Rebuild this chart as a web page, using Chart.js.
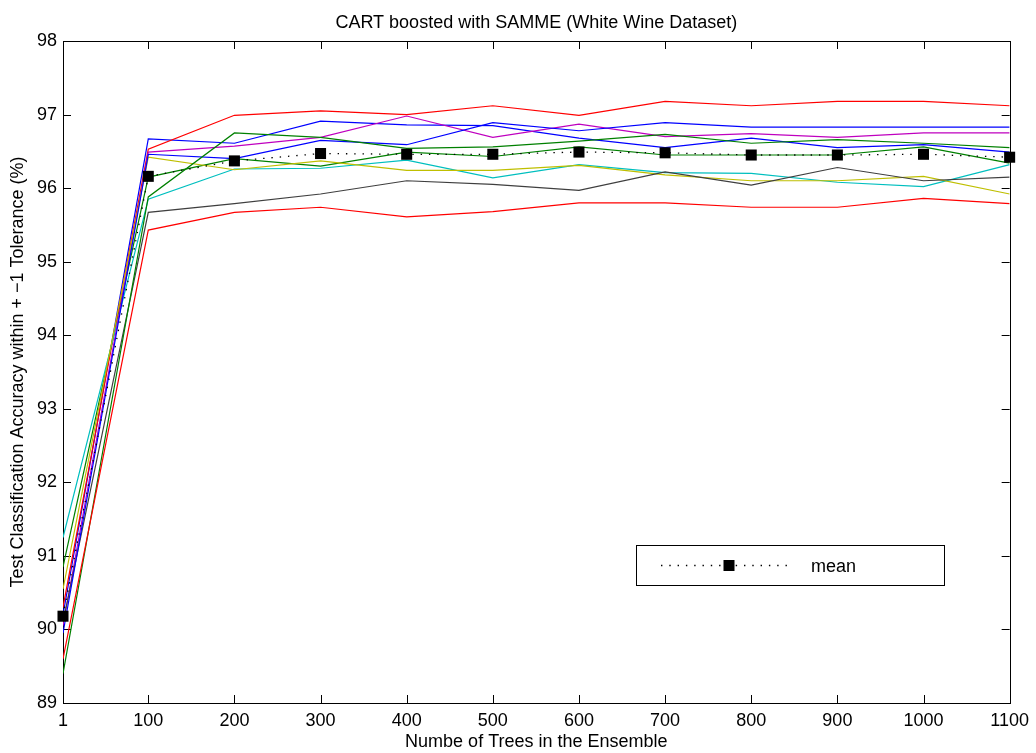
<!DOCTYPE html>
<html>
<head>
<meta charset="utf-8">
<script src="https://cdn.jsdelivr.net/npm/chart.js@4/dist/chart.umd.min.js"></script>
<style>
  html, body { margin: 0; padding: 0; background: #fff; }
  #wrap { width: 1036px; height: 753px; }
</style>
</head>
<body>
<div id="wrap"><canvas id="chart" width="1036" height="753"></canvas></div>
<script>
/* CART boosted with SAMME - accuracy vs ensemble size, 10 runs + mean */

const TREES = [1, 100, 200, 300, 400, 500, 600, 700, 800, 900, 1000, 1100];
const Y_TICKS = [89, 90, 91, 92, 93, 94, 95, 96, 97, 98];

const RUN_1  = [90.20, 96.67, 96.61, 96.91, 96.86, 96.85, 96.68, 96.55, 96.68, 96.55, 96.59, 96.49];
const RUN_2  = [90.85, 96.15, 96.40, 96.30, 96.49, 96.43, 96.56, 96.45, 96.45, 96.45, 96.56, 96.34];
const RUN_3  = [90.30, 96.53, 96.99, 97.05, 97.00, 97.12, 96.99, 97.18, 97.12, 97.18, 97.18, 97.12];
const RUN_4  = [91.25, 95.85, 96.26, 96.27, 96.38, 96.14, 96.32, 96.21, 96.20, 96.08, 96.02, 96.32];
const RUN_5  = [90.05, 96.49, 96.57, 96.69, 96.98, 96.69, 96.87, 96.70, 96.74, 96.69, 96.75, 96.75];
const RUN_6  = [90.55, 96.42, 96.25, 96.37, 96.24, 96.24, 96.31, 96.18, 96.10, 96.10, 96.16, 95.92];
const RUN_7  = [90.10, 95.67, 95.79, 95.92, 96.10, 96.05, 95.97, 96.22, 96.04, 96.28, 96.10, 96.15];
const RUN_8  = [89.95, 96.46, 96.40, 96.65, 96.59, 96.89, 96.78, 96.89, 96.83, 96.83, 96.83, 96.83];
const RUN_9  = [89.40, 95.88, 96.75, 96.69, 96.54, 96.56, 96.64, 96.73, 96.61, 96.66, 96.61, 96.55];
const RUN_10 = [89.60, 95.43, 95.67, 95.74, 95.61, 95.68, 95.80, 95.80, 95.74, 95.74, 95.86, 95.79];
const MEAN   = [90.18, 96.16, 96.37, 96.47, 96.46, 96.46, 96.49, 96.48, 96.45, 96.45, 96.46, 96.42];

const RUNS = [RUN_1, RUN_2, RUN_3, RUN_4, RUN_5, RUN_6, RUN_7, RUN_8, RUN_9, RUN_10];
// matlab default line colour cycle
const RUN_COLORS = ['#0000ff', '#008000', '#ff0000', '#00bfbf', '#bf00bf', '#bfbf00', '#3f3f3f', '#0000ff', '#008000', '#ff0000'];

const FONT = { family: '"Liberation Sans", Arial, Helvetica, sans-serif', size: 18 };
const TICK_LEN = 8;
const MEAN_DASH = [1.4, 6.9];

// box round the axes plus inward ticks on all four sides
const framePlugin = {
    id: 'frame',
    beforeDatasetsDraw(chart) {
        const { ctx, chartArea: a, scales: { x, y } } = chart;
        ctx.save();
        ctx.strokeStyle = '#000';
        ctx.lineWidth = 1;
        ctx.beginPath();
        x.ticks.forEach(t => {
            const px = Math.round(x.getPixelForValue(t.value)) + 0.5;
            ctx.moveTo(px, a.bottom); ctx.lineTo(px, a.bottom - TICK_LEN);
            ctx.moveTo(px, a.top); ctx.lineTo(px, a.top + TICK_LEN);
        });
        y.ticks.forEach(t => {
            const py = Math.round(y.getPixelForValue(t.value)) + 0.5;
            ctx.moveTo(a.left, py); ctx.lineTo(a.left + TICK_LEN, py);
            ctx.moveTo(a.right, py); ctx.lineTo(a.right - TICK_LEN, py);
        });
        ctx.stroke();
        ctx.strokeRect(Math.round(a.left) + 0.5, Math.round(a.top) + 0.5,
            Math.round(a.right - a.left), Math.round(a.bottom - a.top));
        ctx.restore();
    },
    afterDraw(chart) {
        const { ctx, chartArea: a } = chart;
        ctx.save();
        // title
        ctx.fillStyle = '#000';
        ctx.font = `${FONT.size}px ${FONT.family}`;
        ctx.textAlign = 'center';
        ctx.textBaseline = 'middle';
        ctx.fillText('CART boosted with SAMME (White Wine Dataset)', (a.left + a.right) / 2, 23);

        // legend box (only the mean is listed)
        const meanSet = chart.data.datasets.find(d => d.label === 'mean');
        const bx = 636.5, by = 545.5, bw = 308, bh = 40;
        ctx.fillStyle = '#fff';
        ctx.fillRect(bx, by, bw, bh);
        ctx.strokeStyle = '#000';
        ctx.lineWidth = 1;
        ctx.strokeRect(bx, by, bw, bh);
        const ly = by + bh / 2;
        ctx.setLineDash(MEAN_DASH);
        ctx.lineWidth = 1.3;
        ctx.beginPath();
        ctx.moveTo(661, ly); ctx.lineTo(792, ly);
        ctx.stroke();
        ctx.setLineDash([]);
        ctx.fillStyle = '#000';
        ctx.fillRect(723.5, ly - 5.5, 11, 11);
        ctx.textAlign = 'left';
        ctx.fillText(meanSet.label, 811, ly + 2);
        ctx.restore();
    }
};

const datasets = RUNS.map((run, i) => ({
    label: 'run ' + (i + 1),
    data: run.map((v, j) => ({ x: TREES[j], y: v })),
    borderColor: RUN_COLORS[i],
    borderWidth: 1.2,
    pointRadius: 0,
    tension: 0,
    order: 1 + (RUNS.length - i),
}));

datasets.push({
    label: 'mean',
    data: MEAN.map((v, j) => ({ x: TREES[j], y: v })),
    borderColor: '#000',
    borderWidth: 1.3,
    borderDash: MEAN_DASH,
    pointStyle: 'rect',
    pointRadius: 7.8,
    pointBackgroundColor: '#000',
    pointBorderWidth: 0,
    clip: false,
    order: 0,
});

new Chart(document.getElementById('chart'), {
    type: 'line',
    data: { datasets },
    options: {
        responsive: false,
        animation: false,
        devicePixelRatio: 1,
        layout: { padding: { top: 41, right: 25, left: 0, bottom: 0 } },
        plugins: {
            legend: { display: false },
            title: { display: false },
            tooltip: { enabled: false },
        },
        scales: {
            x: {
                type: 'linear',
                min: 1,
                max: 1100,
                afterBuildTicks: (scale) => { scale.ticks = TREES.map(v => ({ value: v })); },
                afterFit: (scale) => { scale.height = 50; },
                grid: { display: false, drawTicks: false },
                border: { display: false },
                ticks: {
                    color: '#000', font: FONT, padding: 7, maxRotation: 0, autoSkip: false,
                    callback: (value) => String(value),
                },
                title: {
                    display: true,
                    text: 'Numbe of Trees in the Ensemble',
                    color: '#000',
                    font: FONT,
                    padding: { top: 0, bottom: 0 },
                },
            },
            y: {
                min: 89,
                max: 98,
                afterBuildTicks: (scale) => { scale.ticks = Y_TICKS.map(v => ({ value: v })); },
                afterFit: (scale) => { scale.width = 63; },
                grid: { display: false, drawTicks: false },
                border: { display: false },
                ticks: { color: '#000', font: FONT, padding: 6 },
                title: {
                    display: true,
                    text: 'Test Classification Accuracy within + \u22121 Tolerance (%)',
                    color: '#000',
                    font: FONT,
                    padding: { top: 7, bottom: 0 },
                },
            },
        },
    },
    plugins: [framePlugin],
});
</script>
</body>
</html>
